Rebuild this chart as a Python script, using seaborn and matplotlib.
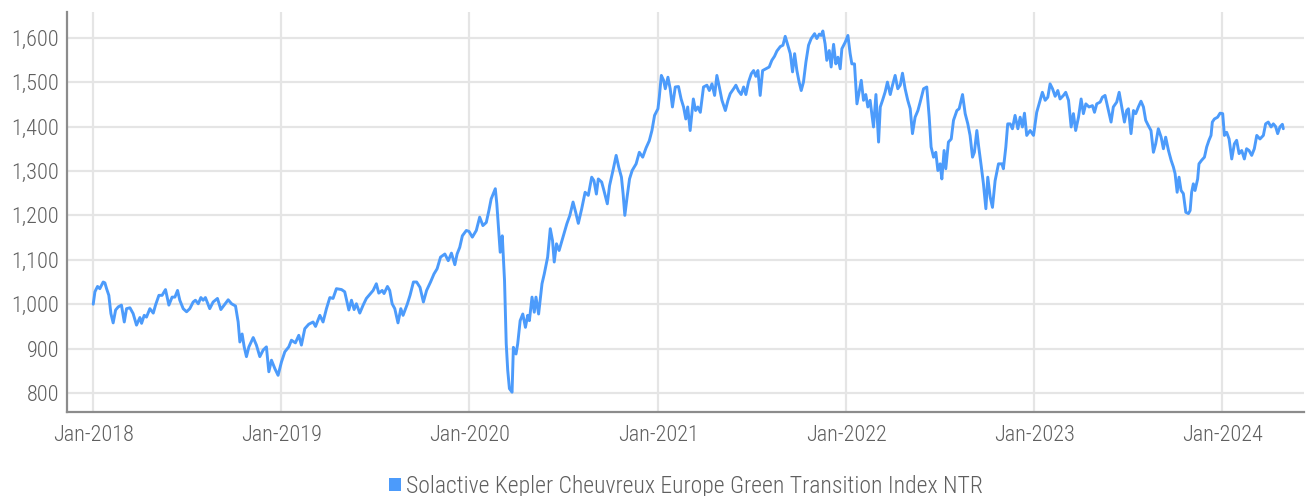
import pandas as pd
import matplotlib.pyplot as plt
import matplotlib.ticker as mticker
import matplotlib.dates as mdates
from matplotlib import font_manager
from matplotlib.patches import Patch
import seaborn as sns

# values: decimal year and index level
year_pos = [
    2018.000, 2018.009, 2018.023, 2018.035, 2018.053, 2018.062, 2018.071, 2018.083, 2018.094, 2018.106,
    2018.119, 2018.133, 2018.150, 2018.165, 2018.177, 2018.195, 2018.212, 2018.230, 2018.248, 2018.257,
    2018.271, 2018.283, 2018.301, 2018.319, 2018.331, 2018.349, 2018.366, 2018.384, 2018.402, 2018.419,
    2018.434, 2018.448, 2018.460, 2018.478, 2018.496, 2018.513, 2018.531, 2018.543, 2018.558, 2018.572,
    2018.584, 2018.596, 2018.619, 2018.637, 2018.660, 2018.678, 2018.696, 2018.717, 2018.735, 2018.756,
    2018.770, 2018.779, 2018.791, 2018.802, 2018.814, 2018.827, 2018.850, 2018.867, 2018.885, 2018.903,
    2018.920, 2018.933, 2018.947, 2018.965, 2018.982, 2019.000, 2019.018, 2019.039, 2019.053, 2019.074,
    2019.092, 2019.106, 2019.124, 2019.145, 2019.168, 2019.181, 2019.204, 2019.221, 2019.239, 2019.257,
    2019.274, 2019.292, 2019.319, 2019.336, 2019.358, 2019.372, 2019.386, 2019.398, 2019.416, 2019.434,
    2019.451, 2019.469, 2019.487, 2019.504, 2019.517, 2019.535, 2019.545, 2019.563, 2019.575, 2019.588,
    2019.602, 2019.619, 2019.634, 2019.646, 2019.669, 2019.683, 2019.701, 2019.718, 2019.736, 2019.754,
    2019.771, 2019.792, 2019.810, 2019.827, 2019.845, 2019.868, 2019.886, 2019.903, 2019.921, 2019.933,
    2019.947, 2019.961, 2019.982, 2019.996, 2020.014, 2020.035, 2020.053, 2020.070, 2020.088, 2020.102,
    2020.114, 2020.136, 2020.144, 2020.155, 2020.162, 2020.173, 2020.185, 2020.194, 2020.202, 2020.211,
    2020.225, 2020.232, 2020.246, 2020.255, 2020.268, 2020.282, 2020.296, 2020.308, 2020.317, 2020.331,
    2020.343, 2020.352, 2020.366, 2020.384, 2020.396, 2020.414, 2020.428, 2020.440, 2020.449, 2020.461,
    2020.475, 2020.488, 2020.502, 2020.516, 2020.532, 2020.549, 2020.563, 2020.577, 2020.595, 2020.613,
    2020.630, 2020.648, 2020.660, 2020.673, 2020.683, 2020.701, 2020.713, 2020.731, 2020.743, 2020.761,
    2020.778, 2020.792, 2020.806, 2020.815, 2020.824, 2020.836, 2020.849, 2020.863, 2020.884, 2020.901,
    2020.919, 2020.937, 2020.954, 2020.968, 2020.982, 2021.000, 2021.007, 2021.018, 2021.030, 2021.039,
    2021.053, 2021.065, 2021.077, 2021.092, 2021.109, 2021.123, 2021.136, 2021.148, 2021.158, 2021.171,
    2021.188, 2021.200, 2021.212, 2021.225, 2021.242, 2021.260, 2021.273, 2021.287, 2021.301, 2021.313,
    2021.326, 2021.340, 2021.358, 2021.372, 2021.384, 2021.402, 2021.414, 2021.428, 2021.442, 2021.455,
    2021.467, 2021.481, 2021.496, 2021.508, 2021.520, 2021.531, 2021.543, 2021.556, 2021.573, 2021.591,
    2021.605, 2021.619, 2021.632, 2021.650, 2021.664, 2021.676, 2021.690, 2021.703, 2021.715, 2021.726,
    2021.738, 2021.750, 2021.761, 2021.773, 2021.786, 2021.800, 2021.814, 2021.832, 2021.844, 2021.857,
    2021.867, 2021.876, 2021.888, 2021.897, 2021.910, 2021.920, 2021.933, 2021.945, 2021.956, 2021.968,
    2021.977, 2021.995, 2022.009, 2022.021, 2022.030, 2022.044, 2022.057, 2022.069, 2022.080, 2022.092,
    2022.104, 2022.115, 2022.127, 2022.145, 2022.158, 2022.172, 2022.181, 2022.193, 2022.207, 2022.219,
    2022.234, 2022.246, 2022.260, 2022.274, 2022.287, 2022.299, 2022.313, 2022.327, 2022.340, 2022.352,
    2022.366, 2022.381, 2022.393, 2022.411, 2022.428, 2022.441, 2022.451, 2022.464, 2022.476, 2022.487,
    2022.499, 2022.508, 2022.520, 2022.529, 2022.543, 2022.558, 2022.570, 2022.588, 2022.600, 2022.618,
    2022.632, 2022.646, 2022.658, 2022.671, 2022.681, 2022.694, 2022.703, 2022.717, 2022.729, 2022.742,
    2022.752, 2022.765, 2022.777, 2022.791, 2022.809, 2022.827, 2022.835, 2022.848, 2022.858, 2022.871,
    2022.883, 2022.897, 2022.912, 2022.924, 2022.936, 2022.947, 2022.959, 2022.977, 2022.995, 2023.012,
    2023.030, 2023.042, 2023.057, 2023.071, 2023.083, 2023.096, 2023.110, 2023.124, 2023.136, 2023.154,
    2023.166, 2023.181, 2023.195, 2023.207, 2023.219, 2023.234, 2023.248, 2023.260, 2023.273, 2023.290,
    2023.308, 2023.319, 2023.331, 2023.349, 2023.361, 2023.375, 2023.389, 2023.407, 2023.419, 2023.437,
    2023.450, 2023.464, 2023.478, 2023.490, 2023.499, 2023.513, 2023.526, 2023.538, 2023.552, 2023.566,
    2023.579, 2023.591, 2023.605, 2023.619, 2023.632, 2023.644, 2023.658, 2023.673, 2023.685, 2023.697,
    2023.712, 2023.726, 2023.738, 2023.747, 2023.758, 2023.768, 2023.779, 2023.791, 2023.804, 2023.818,
    2023.827, 2023.835, 2023.844, 2023.853, 2023.867, 2023.874, 2023.888, 2023.903, 2023.915, 2023.927,
    2023.938, 2023.945, 2023.956, 2023.973, 2023.986, 2024.000, 2024.009, 2024.021, 2024.034, 2024.048,
    2024.062, 2024.074, 2024.087, 2024.101, 2024.115, 2024.127, 2024.140, 2024.154, 2024.168, 2024.181,
    2024.198, 2024.216, 2024.228, 2024.242, 2024.257, 2024.269, 2024.281, 2024.292, 2024.304, 2024.317,
    2024.322,
]

index_value = [
    1000, 1028, 1040, 1035, 1050, 1048, 1035, 1020, 979, 958,
    987, 994, 998, 960, 990, 992, 979, 953, 970, 957,
    975, 971, 990, 980, 998, 1020, 1020, 1033, 998, 1016,
    1016, 1031, 1009, 990, 983, 990, 1005, 1009, 1001, 1015,
    1009, 1015, 990, 1005, 1013, 988, 998, 1010, 1001, 996,
    960, 915, 933, 904, 882, 904, 925, 908, 882, 897,
    904, 848, 874, 855, 840, 870, 893, 904, 919, 913,
    930, 908, 945, 955, 960, 950, 975, 960, 990, 1015,
    1013, 1035, 1033, 1028, 987, 1009, 988, 1001, 980, 998,
    1013, 1022, 1031, 1046, 1025, 1031, 1024, 1040, 1031, 1001,
    990, 958, 990, 975, 1001, 1020, 1050, 1050, 1038, 1005,
    1031, 1050, 1068, 1080, 1106, 1113, 1098, 1115, 1089, 1113,
    1128, 1154, 1166, 1164, 1151, 1166, 1196, 1177, 1184, 1211,
    1237, 1260, 1226, 1158, 1117, 1154, 1053, 911, 851, 810,
    802, 903, 888, 911, 963, 978, 948, 975, 963, 1016,
    982, 1016, 978, 1046, 1068, 1106, 1170, 1143, 1095, 1136,
    1121, 1140, 1160, 1181, 1200, 1230, 1207, 1182, 1215, 1252,
    1245, 1286, 1278, 1248, 1282, 1275, 1256, 1226, 1267, 1301,
    1335, 1308, 1286, 1248, 1200, 1241, 1282, 1301, 1316, 1342,
    1331, 1352, 1368, 1391, 1425, 1440, 1466, 1515, 1504, 1485,
    1511, 1485, 1444, 1489, 1490, 1462, 1444, 1417, 1444, 1391,
    1462, 1436, 1444, 1432, 1489, 1493, 1481, 1496, 1470, 1515,
    1489, 1459, 1436, 1459, 1474, 1485, 1493, 1480, 1472, 1489,
    1472, 1500, 1519, 1526, 1513, 1526, 1470, 1526, 1530, 1534,
    1549, 1558, 1570, 1580, 1583, 1603, 1583, 1564, 1523, 1564,
    1526, 1500, 1481, 1500, 1545, 1583, 1598, 1609, 1598, 1608,
    1605, 1615, 1586, 1549, 1571, 1534, 1585, 1541, 1556, 1530,
    1575, 1590, 1605, 1564, 1541, 1541, 1451, 1478, 1504, 1459,
    1472, 1444, 1459, 1399, 1472, 1365, 1444, 1459, 1478, 1500,
    1472, 1493, 1515, 1485, 1493, 1520, 1485, 1459, 1440, 1384,
    1421, 1436, 1455, 1485, 1489, 1421, 1354, 1331, 1342, 1301,
    1316, 1282, 1346, 1305, 1365, 1372, 1414, 1436, 1440, 1472,
    1429, 1406, 1380, 1331, 1342, 1391, 1357, 1312, 1271, 1215,
    1286, 1241, 1218, 1278, 1316, 1316, 1305, 1354, 1406, 1406,
    1395, 1425, 1395, 1421, 1399, 1430, 1380, 1391, 1380, 1432,
    1459, 1477, 1459, 1466, 1496, 1485, 1468, 1481, 1462, 1470,
    1477, 1459, 1399, 1429, 1391, 1421, 1462, 1429, 1451, 1444,
    1447, 1432, 1451, 1455, 1466, 1470, 1444, 1410, 1444, 1455,
    1477, 1444, 1410, 1436, 1440, 1384, 1436, 1429, 1444, 1457,
    1444, 1414, 1402, 1391, 1342, 1361, 1395, 1376, 1350, 1376,
    1346, 1324, 1309, 1294, 1252, 1286, 1256, 1249, 1207, 1204,
    1211, 1252, 1271, 1256, 1282, 1316, 1324, 1331, 1354, 1369,
    1380, 1410, 1417, 1421, 1430, 1429, 1380, 1387, 1372, 1327,
    1361, 1369, 1339, 1346, 1327, 1350, 1346, 1335, 1350, 1380,
    1372, 1380, 1406, 1410, 1399, 1406, 1400, 1384, 1399, 1405,
    1395,
]

series_name = 'Solactive Kepler Cheuvreux Europe Green Transition Index NTR'
tick_years = [2018, 2019, 2020, 2021, 2022, 2023, 2024]
y_ticks = [800, 900, 1000, 1100, 1200, 1300, 1400, 1500, 1600]

line_color = '#4C9BFB'
text_color = '#5f5f5f'

start = pd.Timestamp('2018-01-01')
df = pd.DataFrame({
    'Date': start + pd.to_timedelta([(t - 2018) * 365.25 for t in year_pos], unit='D'),
    'Value': index_value,
})

sns.set_style('white')
# pick a narrow face if one is installed
installed = {f.name for f in font_manager.fontManager.ttflist}
families = [f for f in ['Roboto Condensed', 'Liberation Sans Narrow', 'Open Sans Condensed',
                        'Roboto', 'DejaVu Sans'] if f in installed]
plt.rcParams['font.family'] = families or ['DejaVu Sans']
plt.rcParams['font.weight'] = 'light'
narrow = families and families[0] != 'Roboto'
fsize = 16 if narrow else 15
lsize = 17 if narrow else 15.5

fig, ax = plt.subplots(figsize=(13.07, 4.96), dpi=100)
fig.subplots_adjust(left=0.0516, right=0.998, bottom=0.169, top=0.976)

sns.lineplot(data=df, x='Date', y='Value', ax=ax, color=line_color, linewidth=2.1)

ax.set_xlim(pd.Timestamp('2017-11-12'), pd.Timestamp('2024-06-08'))
ax.set_ylim(757, 1658)
ax.set_yticks(y_ticks)
ax.yaxis.set_major_formatter(mticker.StrMethodFormatter('{x:,.0f}'))
ax.set_xticks([pd.Timestamp(f'{y}-01-01') for y in tick_years])
ax.xaxis.set_major_formatter(mdates.DateFormatter('%b-%Y'))

ax.grid(True, color='#e5e5e5', linewidth=1.6)
ax.set_axisbelow(True)
for side in ['top', 'right']:
    ax.spines[side].set_visible(False)
for side in ['left', 'bottom']:
    ax.spines[side].set_color('#8c8c8c')
    ax.spines[side].set_linewidth(1.6)
ax.tick_params(axis='both', length=0, labelsize=fsize, labelcolor=text_color)
ax.tick_params(axis='y', pad=6)
ax.tick_params(axis='x', pad=9)
ax.set_xlabel('')
ax.set_ylabel('')

handle = Patch(facecolor=line_color, edgecolor='none')
ax.legend([handle], [series_name], loc='upper center', bbox_to_anchor=(0.5, -0.103),
          frameon=False, fontsize=lsize, labelcolor=text_color,
          handlelength=0.5, handleheight=0.5, handletextpad=0.2)

plt.savefig('out.png', dpi=100)
